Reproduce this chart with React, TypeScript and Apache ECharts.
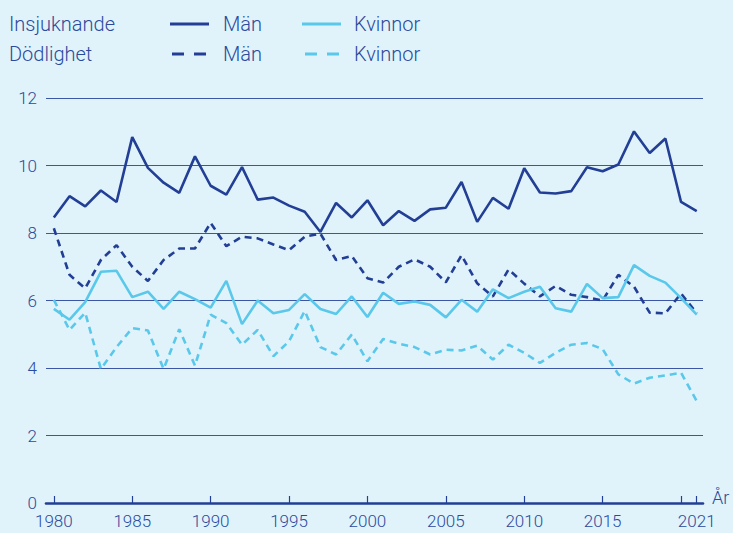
import React, { useEffect, useRef } from "react";
import * as echarts from "echarts";

const years = [
  1980, 1981, 1982, 1983, 1984, 1985, 1986, 1987, 1988, 1989,
  1990, 1991, 1992, 1993, 1994, 1995, 1996, 1997, 1998, 1999,
  2000, 2001, 2002, 2003, 2004, 2005, 2006, 2007, 2008, 2009,
  2010, 2011, 2012, 2013, 2014, 2015, 2016, 2017, 2018, 2019,
  2020, 2021,
];

const insjMan = [
  8.46, 9.09, 8.79, 9.26, 8.92, 10.84, 9.93, 9.49, 9.19, 10.27,
  9.4, 9.14, 9.95, 8.99, 9.05, 8.81, 8.63, 8.03, 8.89, 8.46,
  8.97, 8.23, 8.65, 8.36, 8.7, 8.75, 9.51, 8.33, 9.04, 8.72,
  9.92, 9.2, 9.17, 9.24, 9.95, 9.83, 10.03, 11.01, 10.37, 10.8,
  8.92, 8.65,
];

const insjKvinnor = [
  5.75, 5.43, 5.95, 6.85, 6.88, 6.1, 6.26, 5.75, 6.26, 6.04,
  5.79, 6.58, 5.3, 6.0, 5.62, 5.72, 6.19, 5.75, 5.6, 6.12,
  5.51, 6.23, 5.9, 5.97, 5.87, 5.5, 6.02, 5.67, 6.33, 6.07,
  6.26, 6.41, 5.77, 5.67, 6.49, 6.07, 6.1, 7.05, 6.73, 6.53,
  6.07, 5.58,
];

const dodMan = [
  8.14, 6.76, 6.36, 7.2, 7.64, 7.0, 6.58, 7.2, 7.54, 7.54,
  8.3, 7.61, 7.89, 7.84, 7.66, 7.49, 7.89, 7.98, 7.2, 7.32,
  6.66, 6.53, 7.0, 7.22, 7.0, 6.54, 7.34, 6.51, 6.12, 6.92,
  6.5, 6.12, 6.43, 6.17, 6.1, 6.0, 6.76, 6.41, 5.64, 5.62,
  6.21, 5.62,
];

const dodKvinnor = [
  6.02, 5.13, 5.64, 3.97, 4.62, 5.18, 5.11, 3.97, 5.15, 4.07,
  5.58, 5.33, 4.69, 5.13, 4.35, 4.79, 5.69, 4.62, 4.4, 4.99,
  4.2, 4.86, 4.72, 4.62, 4.4, 4.54, 4.52, 4.66, 4.25, 4.69,
  4.45, 4.15, 4.45, 4.69, 4.74, 4.56, 3.81, 3.54, 3.71, 3.78,
  3.86, 3.02,
];

const tickYears = [1980, 1985, 1990, 1995, 2000, 2005, 2010, 2015, 2020, 2021];
const labelYears = [1980, 1985, 1990, 1995, 2000, 2005, 2010, 2015, 2021];

const rowLabels = ["Insjuknande", "Dödlighet"];
const sexLabels = ["Män", "Kvinnor"];
const axisName = "År";

const DARK = "#223f95";
const LIGHT = "#5ac8ea";
const TEXT = "#2c4a9c";
const BG = "#e0f3fb";
const FONT = "Roboto, 'Noto Sans', sans-serif";
const WEIGHT = 300;

const pair = (ys: number[]) => years.map((y, i) => [y, ys[i]]);

export default function App() {
  const ref = useRef<HTMLDivElement>(null);

  useEffect(() => {
    if (!ref.current) return;
    const chart = echarts.init(ref.current, undefined, { renderer: "svg" });

    const lineSeries = (name: string, data: number[], color: string, dashed: boolean) => ({
      name,
      type: "line",
      data: pair(data),
      symbol: "none",
      showSymbol: false,
      lineStyle: { color, width: 2.6, type: dashed ? [7, 5] : "solid" },
      itemStyle: { color },
      z: dashed ? 3 : 4,
    });

    const txt = (x: number, y: number, text: string, size: number) => ({
      type: "text",
      x,
      y,
      style: {
        text,
        fill: TEXT,
        fontSize: size,
        fontFamily: FONT,
        fontWeight: WEIGHT,
        verticalAlign: "middle",
      },
    });

    const legendRow = (y: number, label: string, dashed: boolean) => [
      txt(9, y, label, 20),
      {
        type: "line",
        shape: dashed ? { x1: 172, y1: y, x2: 206, y2: y } : { x1: 170, y1: y, x2: 209, y2: y },
        style: { stroke: DARK, lineWidth: 3, lineDash: dashed ? [12, 10] : null },
      },
      txt(223, y, sexLabels[0], 20),
      {
        type: "line",
        shape: dashed ? { x1: 305, y1: y, x2: 339, y2: y } : { x1: 302, y1: y, x2: 341, y2: y },
        style: { stroke: LIGHT, lineWidth: 3, lineDash: dashed ? [12, 10] : null },
      },
      txt(354, y, sexLabels[1], 20),
    ];

    chart.setOption({
      animation: false,
      backgroundColor: BG,
      grid: { left: 46, right: 30, top: 98, bottom: 30, containLabel: false },
      xAxis: {
        type: "value",
        min: 1979.5,
        max: 2021.4,
        axisLine: { show: true, lineStyle: { color: DARK, width: 2.6 } },
        axisTick: {
          show: true,
          customValues: tickYears,
          inside: true,
          length: 7,
          lineStyle: { color: DARK, width: 1.2 },
        },
        axisLabel: {
          customValues: labelYears,
          color: TEXT,
          fontSize: 17,
          fontFamily: FONT,
          fontWeight: WEIGHT,
          margin: 9,
          formatter: (v: number) => String(v),
        },
        splitLine: { show: false },
      },
      yAxis: {
        type: "value",
        min: 0,
        max: 12,
        interval: 2,
        axisLine: { show: false },
        axisTick: { show: false },
        axisLabel: { color: TEXT, fontSize: 17, fontFamily: FONT, fontWeight: WEIGHT, margin: 9 },
        splitLine: { show: true, lineStyle: { color: "#3a56a5", width: 1 } },
      },
      graphic: [
        ...legendRow(24, rowLabels[0], false),
        ...legendRow(54, rowLabels[1], true),
        txt(712, 497, axisName, 18),
      ],
      series: [
        lineSeries("Insjuknande Män", insjMan, DARK, false),
        lineSeries("Insjuknande Kvinnor", insjKvinnor, LIGHT, false),
        lineSeries("Dödlighet Män", dodMan, DARK, true),
        lineSeries("Dödlighet Kvinnor", dodKvinnor, LIGHT, true),
      ],
    });

    return () => chart.dispose();
  }, []);

  return <div ref={ref} style={{ width: 733, height: 533, position: "fixed", left: 0, top: 0 }} />;
}
